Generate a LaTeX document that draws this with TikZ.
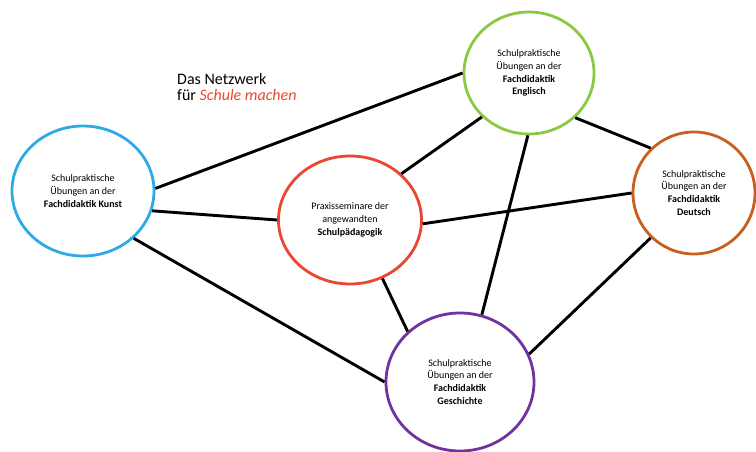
\documentclass[tikz,border=0pt]{standalone}
\usepackage{fontspec}
\setmainfont{Carlito}
\usepackage{tikz}
\usetikzlibrary{shapes}
\definecolor{kunstblau}{RGB}{45,170,230}
\definecolor{praxisrot}{RGB}{235,70,50}
\definecolor{englischgruen}{RGB}{140,200,70}
\definecolor{deutschorange}{RGB}{200,95,30}
\definecolor{geschichtelila}{RGB}{112,50,160}
\tikzset{
fach/.style = {draw, ellipse, fill=white, line width=2.8pt, inner sep=0pt, align=center, font=\fontsize{10}{12.9}\selectfont},
link/.style = {draw, black, line width=2.9pt},
titel/.style = {align=left, inner sep=0pt, font=\fontsize{16}{16.5}\selectfont}
}
\begin{document}
\begin{tikzpicture}[x=1pt, y=-1pt]
  \useasboundingbox (0,0) rectangle (756,452);
  \node [titel, anchor=base west] (titel) at (177,101) {Das Netzwerk\\f\"ur \textcolor{praxisrot}{\textit{Schule machen}}};

  \node [fach, draw=kunstblau, minimum width=142, minimum height=130]        (kunst)      at (83,191)  {Schulpraktische\\\"Ubungen an der\\\textbf{Fachdidaktik Kunst}};
  \node [fach, draw=praxisrot, minimum width=143, minimum height=128]        (praxis)     at (350,220) {Praxisseminare der\\angewandten\\\textbf{Schulp\"adagogik}};
  \node [fach, draw=englischgruen, minimum width=130, minimum height=122]    (englisch)   at (529,73)  {Schulpraktische\\\"Ubungen an der\\\textbf{Fachdidaktik}\\\textbf{Englisch}};
  \node [fach, draw=deutschorange, minimum width=122, minimum height=122]    (deutsch)    at (694,193) {Schulpraktische\\\"Ubungen an der\\\textbf{Fachdidaktik}\\\textbf{Deutsch}};
  \node [fach, draw=geschichtelila, minimum width=148, minimum height=138]   (geschichte) at (460,382) {Schulpraktische\\\"Ubungen an der\\\textbf{Fachdidaktik}\\\textbf{Geschichte}};

  % Verbindungen
  \draw [link] (kunst.2) -- (englisch.180);
  \draw [link] (kunst.-16) -- (praxis.180);
  \draw [link] (kunst.-43) -- (geschichte.180);
  \draw [link] (praxis.42) -- (englisch.-137);
  \draw [link] (praxis.-3) -- (deutsch.180);
  \draw [link] (praxis.-61) -- (geschichte.136);
  \draw [link] (englisch.-44) -- (deutsch.134);
  \draw [link] (englisch.-91) -- (geschichte.72);
  \draw [link] (deutsch.-134) -- (geschichte.22);
\end{tikzpicture}
\end{document}
